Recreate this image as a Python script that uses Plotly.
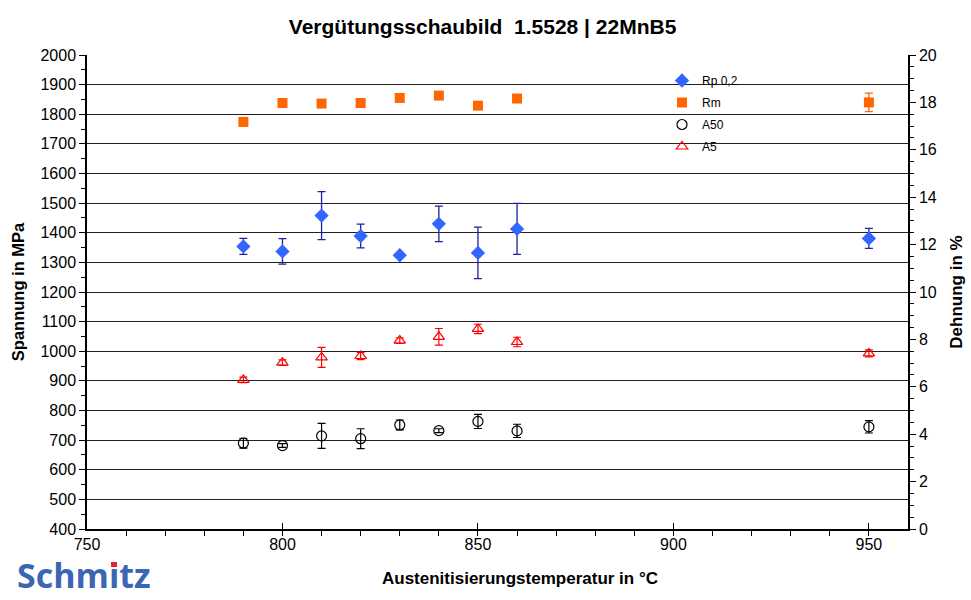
import plotly.graph_objects as go

temps = [790, 800, 810, 820, 830, 840, 850, 860, 950]

rp02 = [1354, 1337, 1458, 1389, 1324, 1430, 1332, 1413, 1381]
rp02_err = [27, 43, 81, 40, 0, 60, 87, 86, 34]

rm = [1774, 1838, 1836, 1838, 1855, 1863, 1829, 1853, 1840]
rm_err = [3, 3, 3, 3, 6, 3, 3, 3, 31]

a50 = [3.62, 3.52, 3.93, 3.81, 4.39, 4.15, 4.54, 4.14, 4.31]
a50_err = [0.21, 0.08, 0.53, 0.42, 0.21, 0.08, 0.30, 0.28, 0.26]

a5 = [6.29, 7.02, 7.24, 7.30, 7.95, 8.11, 8.44, 7.89, 7.41]
a5_err = [0.12, 0.12, 0.42, 0.15, 0.12, 0.35, 0.20, 0.20, 0.15]

title = "Vergütungsschaubild  1.5528 | 22MnB5"
xtitle = "Austenitisierungstemperatur in °C"
FONT = "Liberation Sans, Arial, sans-serif"

fig = go.Figure()
fig.add_trace(go.Scatter(
    x=temps, y=rp02, mode="markers", name="Rp 0,2", legendgroup="g1",
    marker=dict(symbol="diamond", size=11, color="#3366FF"),
    error_y=dict(type="data", array=rp02_err, color="#1F1FA8", thickness=1.3, width=4),
))
fig.add_trace(go.Scatter(
    x=temps, y=rm, mode="markers", name="Rm", legendgroup="g2",
    marker=dict(symbol="square", size=10, color="#FF6600"),
    error_y=dict(type="data", array=rm_err, color="#FF6600", thickness=1.3, width=4),
))
fig.add_trace(go.Scatter(
    x=temps, y=a50, mode="markers", name="A50", yaxis="y2", legendgroup="g3",
    marker=dict(symbol="circle-open", size=10, color="#000000", line=dict(width=1.2)),
    error_y=dict(type="data", array=a50_err, color="#000000", thickness=1.2, width=4),
))
fig.add_trace(go.Scatter(
    x=temps, y=a5, mode="markers", name="A5", yaxis="y2", legendgroup="g4",
    marker=dict(symbol="triangle-up-open", size=10, color="#FF0000", line=dict(width=1.2)),
    error_y=dict(type="data", array=a5_err, color="#FF0000", thickness=1.2, width=4),
))

fig.update_layout(
    width=971, height=600,
    margin=dict(l=87, r=63, t=55, b=71, autoexpand=False),
    paper_bgcolor="white", plot_bgcolor="white",
    font=dict(family=FONT, size=16, color="#000"),
    title=dict(text="<b>" + title + "</b>", x=0.497, xanchor="center", y=0.955, yanchor="middle",
               font=dict(size=21, family=FONT)),
    showlegend=True,
    legend=dict(x=(662 - 87) / 821, y=(529 - 66) / 474, xanchor="left", yanchor="top",
                bgcolor="rgba(0,0,0,0)",
                font=dict(size=12, family=FONT), tracegroupgap=3, itemsizing="trace",
                itemwidth=30),
    xaxis=dict(
        range=[750, 960], tick0=750, dtick=50, showgrid=False, zeroline=False,
        showline=True, linecolor="#000", linewidth=1.5, automargin=False,
        ticks="inside", ticklen=6, tickcolor="#000",
        minor=dict(dtick=10, ticks="outside", ticklen=5, tickcolor="#000", showgrid=False),
        tickfont=dict(size=16),
    ),
    yaxis=dict(
        range=[400, 2000], dtick=100, showgrid=True, gridcolor="#222", gridwidth=1,
        zeroline=False, showline=True, linecolor="#000", linewidth=1.5, automargin=False,
        ticks="outside", ticklen=6, tickcolor="#000",
        minor=dict(dtick=50, ticks="outside", ticklen=4, tickcolor="#000", showgrid=False),
        title=dict(text="<b>Spannung in MPa</b>", font=dict(size=16.5), standoff=12),
        tickfont=dict(size=16),
    ),
    yaxis2=dict(
        range=[0, 20], dtick=2, overlaying="y", side="right", showgrid=False,
        zeroline=False, showline=True, linecolor="#000", linewidth=1.5, automargin=False,
        ticks="outside", ticklen=6, tickcolor="#000",
        minor=dict(dtick=0.5, ticks="outside", ticklen=4, tickcolor="#000", showgrid=False),
        title=dict(text="<b>Dehnung in %</b>", font=dict(size=17), standoff=14),
        tickfont=dict(size=16),
    ),
)

# x axis title (offset to the right as in the reference)
fig.add_annotation(text="<b>" + xtitle + "</b>", xref="paper", yref="paper",
                   x=(520 - 87) / 821, y=-(578 - 529) / 474, xanchor="center", yanchor="middle",
                   showarrow=False, font=dict(size=17, family=FONT, color="#000"))

# white box behind legend (covers gridlines)
fig.add_shape(type="rect", xref="paper", yref="paper", layer="between",
              x0=(668 - 87) / 821, x1=(748 - 87) / 821,
              y0=(529 - 155) / 474, y1=(529 - 66) / 474,
              fillcolor="white", line=dict(width=0))

# logo
fig.add_annotation(text="<b>Schmıtz</b>", xref="paper", yref="paper", x=-0.086, y=-(599 - 529) / 474,
                   xanchor="left", yanchor="bottom", showarrow=False, borderpad=0,
                   font=dict(size=34, color="#3A66B4", family="Open Sans, sans-serif"))
fig.add_shape(type="rect", xref="paper", yref="paper",
              x0=(111 - 87) / 821, x1=(117 - 87) / 821,
              y0=(529 - 567) / 474, y1=(529 - 562) / 474,
              fillcolor="#E8202A", line=dict(width=0))

fig.write_html("out.html")
